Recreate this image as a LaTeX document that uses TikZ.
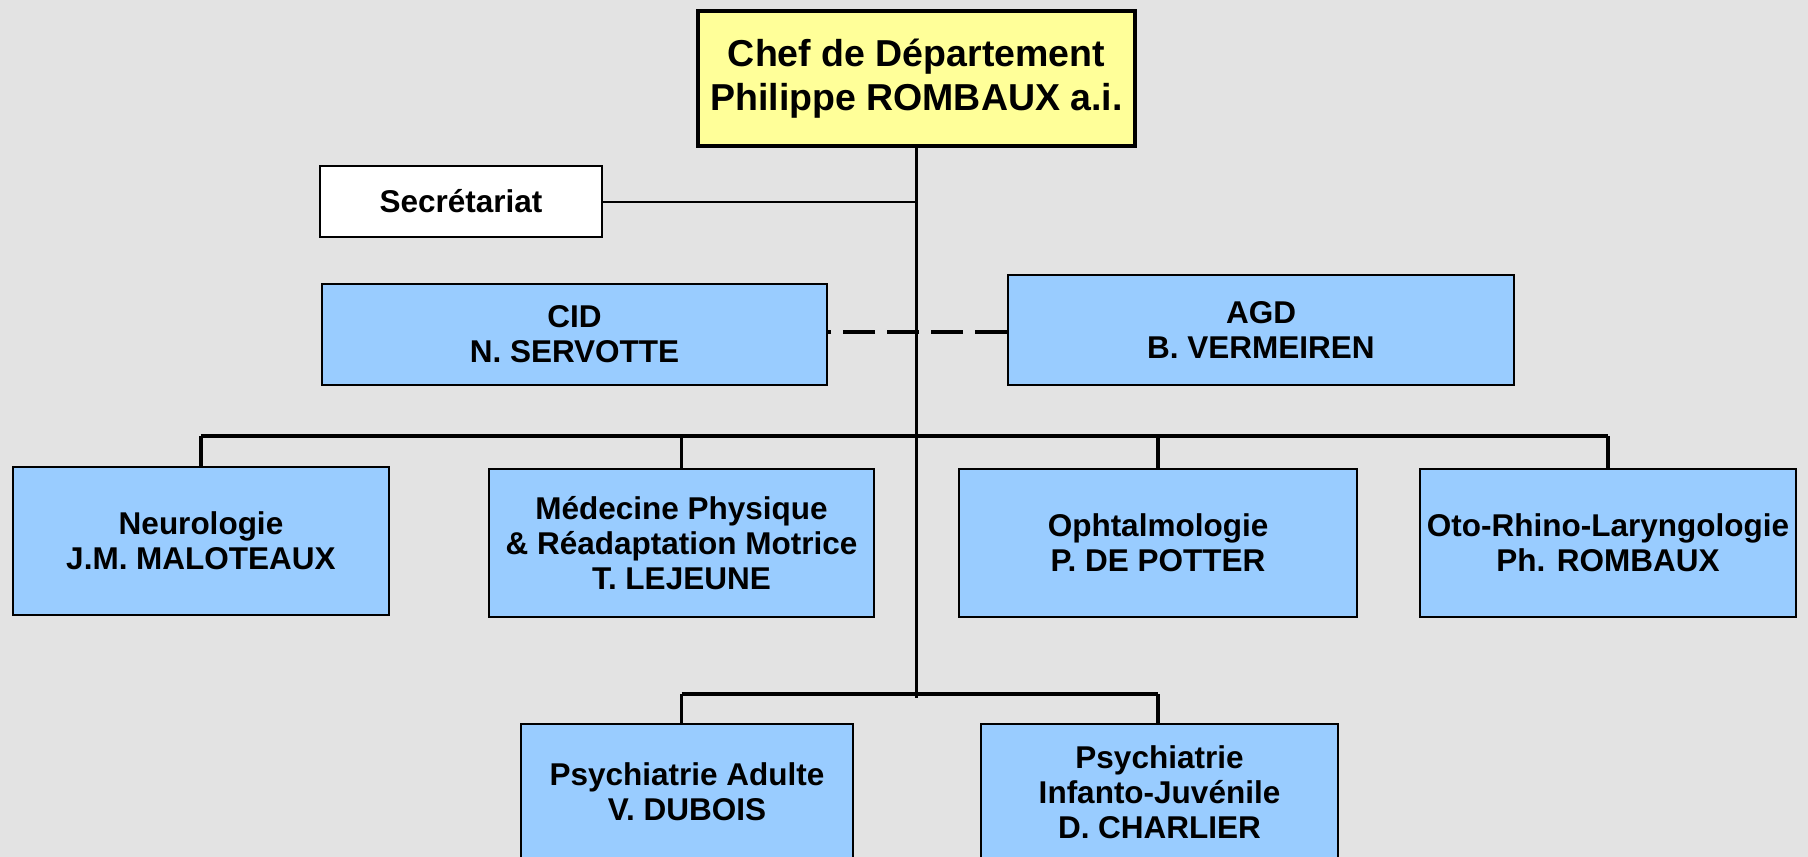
\documentclass[tikz,border=0pt]{standalone}
\usepackage{fontspec}
\setmainfont{Liberation Sans}
\usetikzlibrary{calc}
\definecolor{fond}{HTML}{E3E3E3}
\definecolor{bleu}{HTML}{99CCFF}
\definecolor{jaune}{HTML}{FFFF99}
\tikzset{
 service/.style={draw=black, line width=2pt, fill=bleu, align=center, inner sep=0pt,
   font=\bfseries\fontsize{31.5}{35}\selectfont},
 trait/.style={black, line width=3.5pt},
}

\begin{document}
\begin{tikzpicture} [x=1pt,y=-1pt]
\fill[fond] (0,0) rectangle (1808,857);
\useasboundingbox (0,0) rectangle (1808,857);
\clip (0,0) rectangle (1808,857);
\node[service, fill=jaune, line width=4.5pt, minimum width=437pt, minimum height=135pt,
 font=\bfseries\fontsize{37.5}{44}\selectfont] (chef) at (916.5,78.5) {Chef de D\'epartement\\Philippe ROMBAUX a.i.};
\node[service, fill=white, minimum width=282pt, minimum height=71pt] (secr) at (461,201.5) {Secr\'etariat};
\node[service, minimum width=505pt, minimum height=101pt] (cid) at (574.5,334.5) {CID\\N. SERVOTTE};
\node[service, minimum width=506pt, minimum height=110pt] (agd) at (1261,330) {AGD\\B. VERMEIREN};
\node[service, minimum width=376pt, minimum height=148pt] (neuro) at (201,541) {Neurologie\\J.M. MALOTEAUX};
\node[service, minimum width=385pt, minimum height=148pt] (medecine) at (681.5,543) {M\'edecine Physique\\\& R\'eadaptation Motrice\\T. LEJEUNE};
\node[service, minimum width=398pt, minimum height=148pt] (ophtalmo) at (1158,543) {Ophtalmologie\\P. DE POTTER};
\node[service, minimum width=376pt, minimum height=148pt] (orl) at (1608,543) {Oto-Rhino-Laryngologie\\Ph. ROMBAUX};
\node[service, minimum width=332pt, minimum height=136pt] (psyad) at (687,792) {Psychiatrie Adulte\\V. DUBOIS};
\node[service, minimum width=357pt, minimum height=136pt] (psyij) at (1159.5,792) {Psychiatrie\\Infanto-Juv\'enile\\D. CHARLIER};
\coordinate (bus) at (0,436);
\coordinate (basbus) at (0,694);
\coordinate (fin) at (916,698);
% liaisons
\draw[trait] (chef.south) -- (chef.south |- fin);
\draw[black, line width=2pt] (secr.east) -- (secr.east -| chef.south);
\draw[black, line width=3.3pt, dash pattern=on 32pt off 12pt] ($(agd.west)+(0,2)$) -- ($(agd.west -| cid.east)+(0,2)$);
\draw[trait] (neuro.north) -- (neuro.north |- bus);
\draw[trait] (orl.north) -- (orl.north |- bus);
\draw[trait] (neuro.north |- bus) -- (orl.north |- bus);
\draw[trait] (medecine.north) -- (medecine.north |- bus);
\draw[trait] (ophtalmo.north) -- (ophtalmo.north |- bus);
\draw[trait] (medecine.north |- basbus) -- (ophtalmo.north |- basbus);
\draw[trait] (medecine.north |- basbus) -- (medecine.north |- psyad.north);
\draw[trait] (ophtalmo.north |- basbus) -- (ophtalmo.north |- psyij.north);
\end{tikzpicture}
\end{document}
